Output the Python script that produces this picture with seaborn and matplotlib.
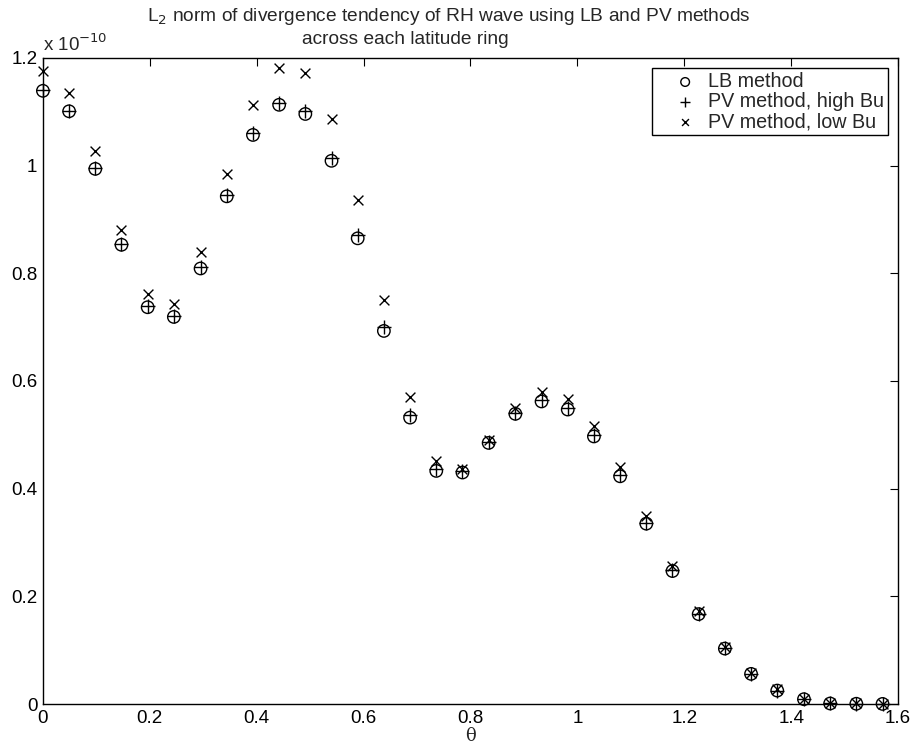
import matplotlib
matplotlib.use("Agg")
import matplotlib.pyplot as plt
import seaborn as sns
import pandas as pd
from matplotlib.ticker import FuncFormatter, MultipleLocator

theta = [0.000, 0.049, 0.098, 0.147, 0.196, 0.245, 0.295, 0.344, 0.393, 0.442,
         0.491, 0.540, 0.589, 0.638, 0.687, 0.736, 0.785, 0.834, 0.884, 0.933,
         0.982, 1.031, 1.080, 1.129, 1.178, 1.227, 1.276, 1.325, 1.374, 1.424,
         1.473, 1.522, 1.571]

lb = [1.139, 1.101, 0.994, 0.853, 0.737, 0.719, 0.809, 0.943, 1.057, 1.113,
      1.096, 1.009, 0.865, 0.693, 0.532, 0.433, 0.430, 0.485, 0.539, 0.562,
      0.547, 0.497, 0.423, 0.335, 0.247, 0.167, 0.103, 0.056, 0.025, 0.009,
      0.001, 0.0005, 0.0002]

pv_high = [1.140, 1.102, 0.995, 0.854, 0.739, 0.721, 0.811, 0.945, 1.060, 1.116,
           1.101, 1.015, 0.872, 0.700, 0.537, 0.436, 0.432, 0.487, 0.541, 0.564,
           0.549, 0.499, 0.426, 0.337, 0.249, 0.168, 0.104, 0.056, 0.025, 0.009,
           0.001, 0.0005, 0.0002]

pv_low = [1.176, 1.135, 1.027, 0.881, 0.762, 0.743, 0.839, 0.985, 1.113, 1.181,
          1.173, 1.086, 0.936, 0.750, 0.570, 0.451, 0.436, 0.491, 0.550, 0.580,
          0.567, 0.517, 0.440, 0.349, 0.257, 0.172, 0.105, 0.057, 0.027, 0.010,
          0.002, 0.001, 0.0003]

title_lines = ["L$_2$ norm of divergence tendency of RH wave using LB and PV methods",
               "across each latitude ring"]

df = pd.DataFrame({"theta": theta, "lb": lb, "pv_high": pv_high, "pv_low": pv_low})

sns.set_style("white")
plt.rcParams['font.family'] = ['Liberation Sans', 'DejaVu Sans']
plt.rcParams['font.size'] = 13.5

W, H = 913, 750
fig = plt.figure(figsize=(W / 100, H / 100), dpi=100)
ax = fig.add_axes([0.047, 0.0613, 0.9366, 0.8614])

sns.scatterplot(data=df, x="theta", y="lb", ax=ax, marker="o", s=80,
                facecolors="none", edgecolor="black", linewidth=1.0, label="LB method")
sns.scatterplot(data=df, x="theta", y="pv_high", ax=ax, marker="+", s=110,
                color="black", linewidth=1.0, label="PV method, high Bu")
sns.scatterplot(data=df, x="theta", y="pv_low", ax=ax, marker="x", s=50,
                color="black", linewidth=1.0, label="PV method, low Bu")
for c in ax.collections:
    c.set_clip_on(False)
    c.set_zorder(3)

ax.set_xlim(0, 1.6)
ax.set_ylim(0, 1.2)
ax.xaxis.set_major_locator(MultipleLocator(0.2))
ax.yaxis.set_major_locator(MultipleLocator(0.2))
fmt = FuncFormatter(lambda v, p: "%g" % round(v, 6))
ax.xaxis.set_major_formatter(fmt)
ax.yaxis.set_major_formatter(fmt)
ax.tick_params(direction="in", top=True, right=True, length=6, width=0.8,
               labelsize=13.5, colors="black", pad=4)
for sp in ax.spines.values():
    sp.set_color("black")
    sp.set_linewidth(1.0)

ax.set_xlabel("θ", fontsize=13, family=["DejaVu Serif"], labelpad=0)
ax.set_ylabel("")

# Title lines (placed as in the reference: each line has its own horizontal position)
fig.text(147 / W, 1 - 21 / H, title_lines[0], fontsize=13.8, ha="left", va="baseline")
fig.text(302 / W, 1 - 44 / H, title_lines[1], fontsize=13.8, ha="left", va="baseline")

ax.text(0.0, 1.005, "x 10$^{-10}$", transform=ax.transAxes, fontsize=13.5,
        ha="left", va="bottom")

leg = ax.legend(loc="upper right", frameon=True, fancybox=False, fontsize=14.2,
                borderpad=0.22, labelspacing=0.05, handletextpad=-0.3,
                handlelength=2.9, markerscale=0.7,
                borderaxespad=0.5, edgecolor="black", framealpha=1)
leg.get_frame().set_linewidth(1.0)
leg.set_zorder(5)

fig.savefig("out.png", dpi=100)
